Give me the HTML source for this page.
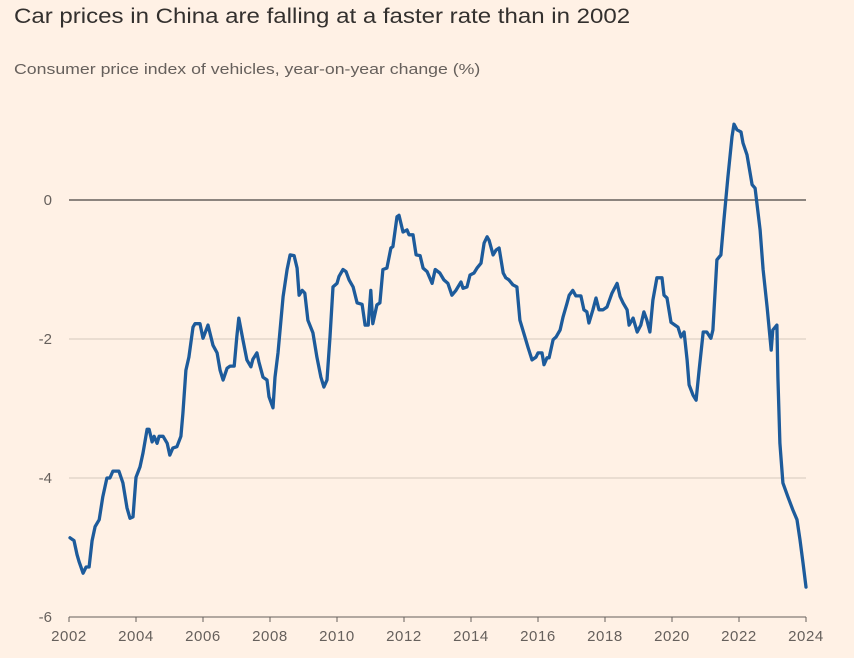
<!DOCTYPE html>
<html><head><meta charset="utf-8">
<style>
body{margin:0;background:#fff1e5;}
#wrap{position:relative;width:854px;height:658px;background:#fff1e5;font-family:"Liberation Sans",sans-serif;overflow:hidden;}
#title{position:absolute;left:14px;top:5px;font-size:21px;color:#33302e;transform-origin:0 0;transform:scaleX(1.145);white-space:nowrap;}
#sub{position:absolute;left:14px;top:61px;font-size:15px;color:#66605c;transform-origin:0 0;transform:scaleX(1.18);white-space:nowrap;}
svg{position:absolute;left:0;top:0;}
</style></head>
<body>
<div id="wrap">
<div id="title">Car prices in China are falling at a faster rate than in 2002</div>
<div id="sub">Consumer price index of vehicles, year-on-year change (%)</div>
<svg id="chart" width="854" height="658"></svg>
</div>
<script>
const yTicks=[0,-2,-4,-6];
const xTicks=[2002,2004,2006,2008,2010,2012,2014,2016,2018,2020,2022,2024];
const dates=[2002.03,2002.15,2002.24,2002.30,2002.42,2002.51,2002.60,2002.69,2002.78,2002.90,2003.01,2003.13,2003.22,2003.31,2003.49,2003.61,2003.73,2003.82,2003.91,2004.00,2004.12,2004.21,2004.33,2004.39,2004.48,2004.54,2004.63,2004.69,2004.81,2004.93,2005.01,2005.10,2005.22,2005.34,2005.40,2005.49,2005.58,2005.70,2005.76,2005.91,2006.00,2006.15,2006.30,2006.42,2006.51,2006.60,2006.72,2006.81,2006.93,2007.01,2007.07,2007.19,2007.31,2007.43,2007.49,2007.61,2007.67,2007.79,2007.91,2007.97,2008.09,2008.15,2008.24,2008.39,2008.51,2008.60,2008.72,2008.81,2008.87,2008.96,2009.04,2009.13,2009.28,2009.40,2009.52,2009.61,2009.70,2009.79,2009.88,2010.00,2010.06,2010.18,2010.27,2010.36,2010.48,2010.60,2010.75,2010.84,2010.93,2011.01,2011.07,2011.19,2011.28,2011.37,2011.49,2011.61,2011.67,2011.79,2011.85,2011.97,2012.09,2012.15,2012.27,2012.36,2012.48,2012.57,2012.69,2012.84,2012.93,2013.07,2013.19,2013.31,2013.43,2013.55,2013.70,2013.76,2013.88,2013.97,2014.09,2014.18,2014.30,2014.39,2014.48,2014.54,2014.66,2014.75,2014.84,2014.96,2015.04,2015.13,2015.25,2015.37,2015.46,2015.61,2015.70,2015.82,2015.94,2016.00,2016.12,2016.18,2016.27,2016.33,2016.45,2016.54,2016.66,2016.75,2016.87,2016.93,2017.04,2017.13,2017.28,2017.37,2017.46,2017.52,2017.64,2017.73,2017.82,2017.94,2018.06,2018.21,2018.36,2018.45,2018.54,2018.66,2018.72,2018.84,2018.96,2019.07,2019.16,2019.25,2019.34,2019.43,2019.55,2019.70,2019.76,2019.85,2019.97,2020.09,2020.18,2020.27,2020.36,2020.45,2020.51,2020.63,2020.72,2020.81,2020.93,2021.04,2021.16,2021.22,2021.34,2021.46,2021.55,2021.67,2021.79,2021.85,2021.94,2022.06,2022.12,2022.24,2022.39,2022.48,2022.63,2022.72,2022.84,2022.96,2023.01,2023.13,2023.16,2023.22,2023.31,2023.46,2023.61,2023.73,2023.82,2023.91,2024.00];
const values=[-4.86,-4.9,-5.1,-5.2,-5.37,-5.28,-5.28,-4.9,-4.7,-4.6,-4.27,-4.0,-4.0,-3.9,-3.9,-4.07,-4.43,-4.58,-4.56,-3.99,-3.84,-3.64,-3.3,-3.3,-3.48,-3.4,-3.5,-3.4,-3.4,-3.5,-3.67,-3.57,-3.55,-3.4,-3.07,-2.45,-2.26,-1.83,-1.78,-1.78,-1.99,-1.8,-2.09,-2.2,-2.45,-2.59,-2.42,-2.39,-2.39,-1.97,-1.7,-2.01,-2.3,-2.4,-2.29,-2.2,-2.33,-2.55,-2.59,-2.83,-2.99,-2.55,-2.2,-1.39,-1.0,-0.79,-0.8,-0.98,-1.37,-1.3,-1.34,-1.73,-1.91,-2.26,-2.55,-2.69,-2.59,-1.97,-1.25,-1.2,-1.1,-1.0,-1.03,-1.15,-1.25,-1.48,-1.5,-1.8,-1.8,-1.3,-1.78,-1.51,-1.48,-1.0,-0.98,-0.69,-0.67,-0.24,-0.22,-0.46,-0.43,-0.5,-0.5,-0.79,-0.8,-0.98,-1.03,-1.2,-1.0,-1.05,-1.15,-1.2,-1.37,-1.3,-1.18,-1.27,-1.25,-1.08,-1.05,-0.98,-0.91,-0.62,-0.53,-0.58,-0.79,-0.72,-0.69,-1.05,-1.12,-1.15,-1.22,-1.25,-1.73,-1.97,-2.12,-2.3,-2.26,-2.2,-2.2,-2.37,-2.27,-2.27,-2.01,-1.97,-1.87,-1.68,-1.48,-1.37,-1.3,-1.38,-1.38,-1.58,-1.61,-1.77,-1.58,-1.41,-1.58,-1.58,-1.54,-1.34,-1.2,-1.39,-1.48,-1.58,-1.8,-1.7,-1.9,-1.8,-1.61,-1.73,-1.9,-1.44,-1.12,-1.12,-1.37,-1.41,-1.76,-1.8,-1.83,-1.97,-1.9,-2.3,-2.66,-2.81,-2.88,-2.45,-1.9,-1.9,-1.99,-1.87,-0.86,-0.79,-0.29,0.33,0.91,1.09,1.01,0.98,0.82,0.65,0.22,0.17,-0.43,-1.0,-1.54,-2.16,-1.87,-1.8,-2.55,-3.5,-4.07,-4.27,-4.46,-4.6,-4.89,-5.22,-5.57];

const NS='http://www.w3.org/2000/svg';
const svg=document.getElementById('chart');
const X0=69,X1=806,Y0=200,Y6=617;
function xScale(v){return X0+(v-2002)/(2024-2002)*(X1-X0);}
function yScale(v){return Y0+(0-v)/6*(Y6-Y0);}
function mk(tag,attrs){const e=document.createElementNS(NS,tag);for(const k in attrs)e.setAttribute(k,attrs[k]);svg.appendChild(e);return e;}

yTicks.forEach(t=>{
  const y=yScale(t);
  const l=mk('line',{x1:X0,x2:X1,y1:y,y2:y,stroke:(t===0||t===-6)?'#66605c':'#d6c9bd','stroke-width':t===0?1.4:1});
  
  
  const tx=mk('text',{x:52,y:y+5,'text-anchor':'end','font-size':15,fill:'#66605c','font-family':'Liberation Sans, sans-serif'});
  tx.textContent=String(t);
  
  
});
xTicks.forEach(t=>{
  const x=xScale(t);
  const tk=mk('line',{x1:x,x2:x,y1:Y6,y2:Y6+5,stroke:'#66605c','stroke-width':1});
  
  
  const tx=mk('text',{x:x,y:641,'text-anchor':'middle','font-size':15,'letter-spacing':'0.6',fill:'#66605c','font-family':'Liberation Sans, sans-serif'});
  tx.textContent=String(t);
  
  
});
let d='';
dates.forEach((dt,i)=>{d+=(i?'L':'M')+xScale(dt).toFixed(1)+','+yScale(values[i]).toFixed(1);});
const p=mk('path',{d:d,fill:'none',stroke:'#1d5b9b','stroke-width':3.3,'stroke-linejoin':'round','stroke-linecap':'round'});


</script>
</body></html>
